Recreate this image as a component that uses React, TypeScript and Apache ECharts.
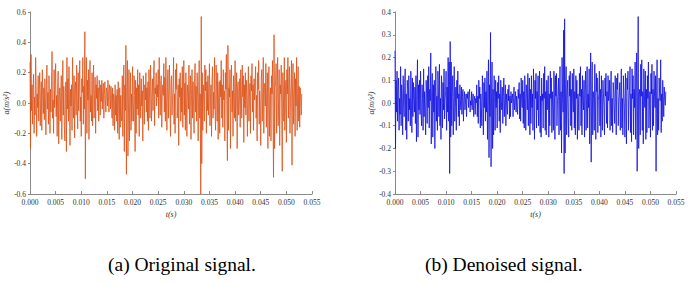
import React, { useEffect, useRef } from "react";
import * as echarts from "echarts";

// Sampling interval (s) of the recorded signals
const SAMPLE_INTERVAL = 0.0001;

// Original signal a (m/s^2), one row per millisecond
const originalSignal: number[] = [
  0.27, -0.30, 0.32, -0.05, 0.12, -0.14, 0.08, 0.19, -0.20, 0.04,
  -0.08, 0.30, 0.11, -0.22, 0.06, -0.03, 0.18, -0.12, 0.09, 0.20,
  -0.15, 0.02, 0.14, -0.18, 0.22, 0.05, -0.07, 0.10, -0.11, 0.16,
  0.03, -0.21, 0.12, 0.25, -0.04, 0.07, -0.14, 0.18, 0.01, -0.20,
  0.09, -0.06, 0.15, 0.34, -0.10, 0.02, -0.20, 0.22, -0.03, 0.12,
  0.26, -0.09, 0.05, -0.22, 0.13, 0.21, -0.27, 0.04, 0.10, -0.12,
  0.06, 0.18, -0.24, 0.02, 0.28, -0.08, 0.11, -0.15, -0.25, 0.07,
  0.14, -0.32, 0.30, -0.04, 0.16, -0.12, 0.24, 0.03, -0.28, 0.09,
  -0.02, 0.12, -0.18, 0.30, 0.05, -0.10, 0.18, -0.23, 0.08, 0.14,
  -0.08, 0.25, 0.02, -0.17, 0.20, -0.05, 0.10, 0.28, -0.12, 0.04,
  -0.22, 0.16, 0.07, 0.30, -0.14, 0.11, -0.04, 0.47, -0.50, 0.12,
  0.30, -0.20, 0.15, 0.02, 0.22, -0.24, 0.10, 0.28, -0.06, 0.05,
  -0.12, 0.20, -0.15, 0.09, 0.25, -0.10, 0.04, 0.17, -0.20, 0.12,
  0.03, 0.18, -0.05, 0.10, -0.12, 0.15, 0.06, -0.08, 0.12, 0.01,
  0.15, -0.04, 0.08, 0.13, -0.10, 0.05, 0.14, 0.02, -0.06, 0.10,
  0.08, -0.02, 0.15, 0.04, -0.06, 0.12, 0.09, -0.04, 0.11, 0.03,
  -0.10, 0.10, -0.15, 0.06, 0.03, -0.18, 0.12, -0.08, 0.05, -0.12,
  0.09, -0.20, 0.14, -0.02, -0.24, 0.10, -0.16, 0.05, -0.08, -0.12,
  0.18, -0.22, 0.06, 0.25, -0.32, 0.12, -0.05, 0.38, -0.47, 0.10,
  0.28, -0.35, -0.08, 0.22, -0.25, 0.04, 0.20, -0.18, 0.06, -0.12,
  0.24, -0.02, -0.12, 0.18, 0.05, -0.32, 0.15, -0.20, 0.10, -0.04,
  0.22, -0.08, 0.12, -0.22, 0.20, 0.04, -0.10, 0.16, -0.02, 0.08,
  -0.25, 0.18, 0.06, -0.14, 0.12, 0.02, 0.20, -0.06, 0.10, -0.12,
  0.14, -0.18, 0.22, 0.08, -0.10, 0.25, 0.12, -0.12, 0.05, 0.16,
  -0.05, 0.18, 0.28, -0.15, 0.10, 0.06, 0.20, -0.02, 0.12, 0.04,
  0.22, -0.10, 0.30, 0.08, -0.08, 0.14, 0.18, -0.16, 0.06, 0.12,
  0.05, 0.26, -0.06, 0.17, -0.12, 0.30, 0.02, -0.18, 0.10, 0.22,
  -0.10, 0.08, 0.25, -0.03, -0.22, 0.14, 0.18, -0.08, 0.02, 0.11,
  0.30, -0.14, 0.06, -0.20, 0.22, 0.09, 0.26, -0.10, -0.03, 0.12,
  -0.28, 0.16, 0.04, 0.20, -0.12, 0.10, -0.06, 0.24, -0.16, 0.08,
  0.28, -0.08, 0.13, -0.18, 0.20, 0.02, -0.22, 0.12, 0.06, -0.04,
  0.25, -0.14, 0.09, 0.18, -0.24, 0.05, 0.22, -0.10, 0.14, -0.02,
  -0.20, 0.16, 0.26, -0.06, 0.11, -0.12, 0.20, 0.03, -0.25, 0.10,
  0.28, -0.10, 0.06, -0.60, 0.57, -0.40, 0.20, -0.18, 0.12, 0.04,
  -0.12, 0.25, 0.08, 0.22, -0.20, 0.14, -0.05, 0.18, -0.08, 0.10,
  0.26, -0.15, 0.03, 0.12, -0.22, 0.16, 0.24, -0.10, 0.07, -0.04,
  0.30, -0.06, -0.18, 0.25, 0.10, -0.12, 0.20, -0.24, 0.05, 0.14,
  -0.20, 0.15, 0.04, 0.28, -0.10, 0.12, -0.16, 0.22, 0.02, 0.08,
  -0.25, 0.20, 0.09, 0.32, -0.08, -0.38, 0.38, -0.18, 0.10, 0.04,
  0.22, -0.30, 0.14, 0.25, -0.06, 0.08, -0.22, 0.18, 0.03, -0.10,
  0.28, -0.12, 0.05, 0.20, -0.30, 0.11, 0.14, -0.08, 0.02, 0.16,
  -0.16, 0.22, 0.06, -0.10, 0.25, 0.04, 0.18, -0.26, 0.12, -0.03,
  0.20, -0.08, 0.15, 0.04, -0.22, 0.10, 0.24, -0.12, 0.06, 0.13,
  -0.20, 0.18, 0.08, 0.26, -0.06, 0.12, -0.18, 0.16, 0.02, 0.10,
  0.24, -0.10, 0.05, -0.25, 0.20, 0.09, 0.28, -0.14, 0.08, -0.04,
  -0.28, 0.15, 0.22, -0.12, 0.06, 0.30, -0.20, 0.10, 0.13, -0.02,
  0.26, -0.16, 0.08, 0.20, -0.30, 0.12, 0.24, -0.22, 0.04, 0.10,
  -0.25, 0.18, 0.06, 0.28, -0.12, -0.49, 0.45, -0.30, 0.10, 0.14,
  0.26, -0.20, 0.09, 0.30, -0.15, 0.03, 0.22, -0.28, 0.12, 0.06,
  0.25, -0.10, -0.45, 0.20, 0.08, -0.12, 0.30, -0.18, 0.04, 0.15,
  -0.26, 0.22, 0.06, 0.30, -0.10, 0.14, 0.24, -0.20, 0.02, 0.12,
  0.28, -0.41, 0.10, 0.26, -0.14, 0.05, 0.20, -0.22, 0.16, -0.02,
  0.30, -0.18, 0.06, 0.24, -0.12, 0.11, -0.16, 0.10, 0.04, -0.08,
  0.06,
];

// Denoised signal a (m/s^2), one row per millisecond
const denoisedSignal: number[] = [
  0.23, -0.20, 0.10, -0.04, 0.14, -0.08, 0.06, 0.11, -0.12, 0.02,
  -0.05, 0.16, -0.10, 0.08, 0.03, -0.14, 0.12, -0.02, -0.06, 0.09,
  0.15, -0.12, 0.04, -0.16, 0.10, 0.06, -0.08, 0.12, -0.03, 0.02,
  -0.10, 0.14, 0.02, -0.13, 0.11, -0.06, 0.09, 0.01, -0.04, 0.07,
  -0.09, 0.12, -0.17, 0.05, 0.19, -0.15, 0.08, -0.03, 0.10, -0.05,
  0.14, -0.04, -0.10, 0.08, 0.02, -0.12, 0.15, -0.06, 0.05, -0.02,
  -0.14, 0.10, 0.04, -0.09, 0.12, -0.02, 0.16, -0.11, 0.06, 0.01,
  0.22, -0.18, 0.05, 0.13, -0.15, 0.08, -0.04, 0.10, -0.20, 0.03,
  0.16, -0.08, 0.03, -0.12, 0.14, 0.05, -0.06, 0.17, -0.10, 0.02,
  -0.16, 0.12, 0.06, -0.11, 0.09, -0.03, 0.15, -0.07, 0.01, 0.05,
  0.14, -0.12, 0.07, -0.04, 0.20, -0.08, 0.18, -0.31, 0.27, -0.15,
  0.18, -0.10, 0.05, 0.12, -0.14, 0.03, 0.16, -0.08, -0.02, 0.07,
  -0.12, 0.10, 0.02, 0.14, -0.06, 0.04, -0.10, 0.08, 0.01, -0.03,
  0.07, -0.05, 0.03, 0.06, -0.08, 0.02, 0.05, -0.03, 0.01, 0.04,
  -0.06, 0.04, 0.02, 0.05, -0.02, 0.03, 0.06, -0.04, 0.01, -0.01,
  0.05, -0.03, 0.02, 0.04, -0.06, 0.01, 0.03, -0.05, 0.02, 0.00,
  0.08, -0.06, 0.03, -0.09, 0.10, 0.02, 0.07, -0.11, 0.04, -0.02,
  -0.10, 0.12, 0.03, -0.14, 0.09, -0.02, 0.11, -0.08, 0.05, -0.04,
  0.14, -0.16, 0.05, 0.19, -0.24, 0.08, -0.06, 0.31, -0.28, 0.04,
  0.18, -0.20, 0.06, -0.14, 0.12, 0.03, -0.12, 0.10, -0.02, 0.05,
  -0.11, 0.09, 0.02, 0.12, -0.08, 0.04, -0.13, 0.10, 0.01, -0.03,
  0.07, -0.09, 0.03, 0.11, -0.06, 0.02, 0.08, -0.10, 0.04, -0.01,
  -0.05, 0.06, 0.01, 0.08, -0.07, 0.03, -0.06, 0.05, 0.00, 0.02,
  0.04, -0.06, 0.02, 0.07, -0.03, 0.01, 0.05, -0.04, 0.03, -0.01,
  -0.05, 0.06, 0.02, 0.09, -0.07, 0.04, -0.08, 0.11, 0.01, -0.02,
  0.10, -0.09, 0.05, -0.11, 0.12, 0.02, -0.12, 0.08, 0.04, -0.03,
  0.13, -0.10, 0.03, 0.11, -0.14, 0.06, -0.09, 0.12, -0.02, 0.04,
  -0.12, 0.15, 0.04, -0.16, 0.10, 0.02, 0.13, -0.11, 0.05, -0.03,
  0.12, -0.10, 0.06, 0.14, -0.13, 0.03, -0.15, 0.11, 0.01, 0.04,
  -0.11, 0.13, 0.02, 0.16, -0.12, 0.05, -0.14, 0.10, -0.03, 0.06,
  0.12, -0.15, 0.04, -0.10, 0.14, 0.02, 0.11, -0.13, 0.05, -0.02,
  -0.12, 0.14, 0.06, -0.16, 0.12, 0.03, 0.13, -0.10, 0.01, 0.04,
  0.11, -0.14, 0.03, 0.16, -0.12, 0.05, -0.22, 0.20, 0.02, -0.04,
  0.32, -0.31, 0.37, -0.22, 0.08, 0.16, -0.14, 0.04, 0.10, -0.06,
  -0.15, 0.12, 0.03, 0.14, -0.10, 0.06, -0.12, 0.13, 0.02, -0.04,
  0.15, -0.11, 0.05, -0.14, 0.12, 0.02, 0.10, -0.16, 0.04, 0.01,
  -0.12, 0.13, 0.03, 0.16, -0.10, 0.06, -0.14, 0.12, 0.01, -0.03,
  0.10, -0.15, 0.05, 0.14, -0.12, 0.02, 0.16, -0.11, 0.04, -0.02,
  0.15, -0.18, 0.06, 0.22, -0.26, 0.03, 0.18, -0.14, 0.05, 0.02,
  -0.12, 0.17, 0.03, -0.16, 0.13, 0.05, 0.11, -0.13, 0.01, 0.04,
  0.14, -0.10, 0.06, -0.15, 0.12, 0.02, -0.12, 0.10, 0.04, -0.02,
  -0.14, 0.11, 0.03, 0.13, -0.09, 0.05, -0.11, 0.12, 0.01, 0.03,
  0.10, -0.12, 0.04, 0.14, -0.10, 0.02, -0.13, 0.09, 0.05, -0.02,
  -0.09, 0.12, 0.03, -0.14, 0.11, 0.06, 0.13, -0.10, 0.01, 0.04,
  0.09, -0.12, 0.05, 0.15, -0.11, 0.02, -0.14, 0.12, 0.04, -0.02,
  -0.15, 0.13, 0.03, -0.18, 0.11, 0.06, 0.14, -0.12, 0.01, 0.05,
  0.16, -0.13, 0.04, -0.17, 0.15, 0.02, 0.12, -0.14, 0.06, -0.02,
  0.18, -0.16, 0.05, 0.22, -0.30, 0.07, 0.38, -0.20, 0.03, 0.06,
  -0.14, 0.17, 0.03, 0.19, -0.12, 0.05, -0.18, 0.15, 0.04, -0.02,
  0.14, -0.16, 0.06, -0.13, 0.12, 0.02, 0.18, -0.11, 0.01, 0.05,
  -0.15, 0.13, 0.04, 0.17, -0.12, 0.06, -0.10, 0.14, 0.03, -0.02,
  0.12, -0.30, 0.05, 0.19, -0.14, 0.02, -0.12, 0.11, 0.04, 0.01,
  0.19, -0.13, 0.04, -0.08, 0.10, 0.03, -0.06, 0.07, 0.02, -0.01,
  0.05,
];

const xTicks = { min: 0, max: 0.055, interval: 0.005 };
const yTicksOriginal = { min: -0.6, max: 0.6, interval: 0.2 };
const yTicksDenoised = { min: -0.4, max: 0.4, interval: 0.1 };
const captions = ["(a) Original signal.", "(b) Denoised signal."];
const xName = "t(s)";
const yName = "a(m/s²)";

const FONT = "'Liberation Serif', 'Times New Roman', serif";
const AXIS_COLOR = "#8a8a8a";
const LABEL_COLOR = "#333333";

function toPairs(values: number[]): [number, number][] {
  return values.map((v, i) => [i * SAMPLE_INTERVAL, v]);
}

function xAxis(gridIndex: number) {
  return {
    type: "value",
    gridIndex,
    min: xTicks.min,
    max: xTicks.max,
    interval: xTicks.interval,
    name: xName,
    nameLocation: "middle",
    nameGap: 16,
    nameTextStyle: { fontFamily: FONT, fontStyle: "italic", fontSize: 8, color: LABEL_COLOR },
    axisLine: { show: true, onZero: false, lineStyle: { color: AXIS_COLOR, width: 1 } },
    axisTick: { show: true, inside: true, length: 3, lineStyle: { color: AXIS_COLOR } },
    axisLabel: {
      fontFamily: FONT,
      fontSize: 7.5,
      color: LABEL_COLOR,
      margin: 4,
      formatter: (v: number) => v.toFixed(3),
    },
    splitLine: { show: false },
  };
}

function yAxis(gridIndex: number, t: { min: number; max: number; interval: number }) {
  return {
    type: "value",
    gridIndex,
    min: t.min,
    max: t.max,
    interval: t.interval,
    name: yName,
    nameLocation: "middle",
    nameGap: 17,
    nameRotate: 90,
    nameTextStyle: { fontFamily: FONT, fontStyle: "italic", fontSize: 8, color: LABEL_COLOR },
    axisLine: { show: true, onZero: false, lineStyle: { color: AXIS_COLOR, width: 1 } },
    axisTick: { show: true, inside: false, length: 2, lineStyle: { color: AXIS_COLOR } },
    axisLabel: {
      fontFamily: FONT,
      fontSize: 7.5,
      color: LABEL_COLOR,
      margin: 4,
      formatter: (v: number) => v.toFixed(1),
    },
    splitLine: { show: false },
  };
}

export default function App() {
  const ref = useRef<HTMLDivElement>(null);

  useEffect(() => {
    if (!ref.current) return;
    const chart = echarts.init(ref.current, null, { renderer: "svg" });
    chart.setOption({
      animation: false,
      backgroundColor: "#ffffff",
      grid: [
        { left: 30, top: 12, width: 282, height: 182 },
        { left: 395, top: 12, width: 281, height: 182 },
      ],
      xAxis: [xAxis(0), xAxis(1)],
      yAxis: [yAxis(0, yTicksOriginal), yAxis(1, yTicksDenoised)],
      series: [
        {
          type: "line",
          xAxisIndex: 0,
          yAxisIndex: 0,
          data: toPairs(originalSignal),
          showSymbol: false,
          symbol: "none",
          lineStyle: { color: "#dc5218", width: 0.8 },
        },
        {
          type: "line",
          xAxisIndex: 1,
          yAxisIndex: 1,
          data: toPairs(denoisedSignal),
          showSymbol: false,
          symbol: "none",
          lineStyle: { color: "#1010e0", width: 0.8 },
        },
      ],
      graphic: [
        {
          type: "text",
          left: 108,
          top: 254,
          style: { text: captions[0], font: `19.5px ${FONT}`, fill: "#000" },
        },
        {
          type: "text",
          left: 425,
          top: 254,
          style: { text: captions[1], font: `19.5px ${FONT}`, fill: "#000" },
        },
      ],
    });
    return () => chart.dispose();
  }, []);

  return (
    <div
      ref={ref}
      style={{ position: "fixed", left: 0, top: 0, width: 694, height: 284, background: "#fff" }}
    />
  );
}
